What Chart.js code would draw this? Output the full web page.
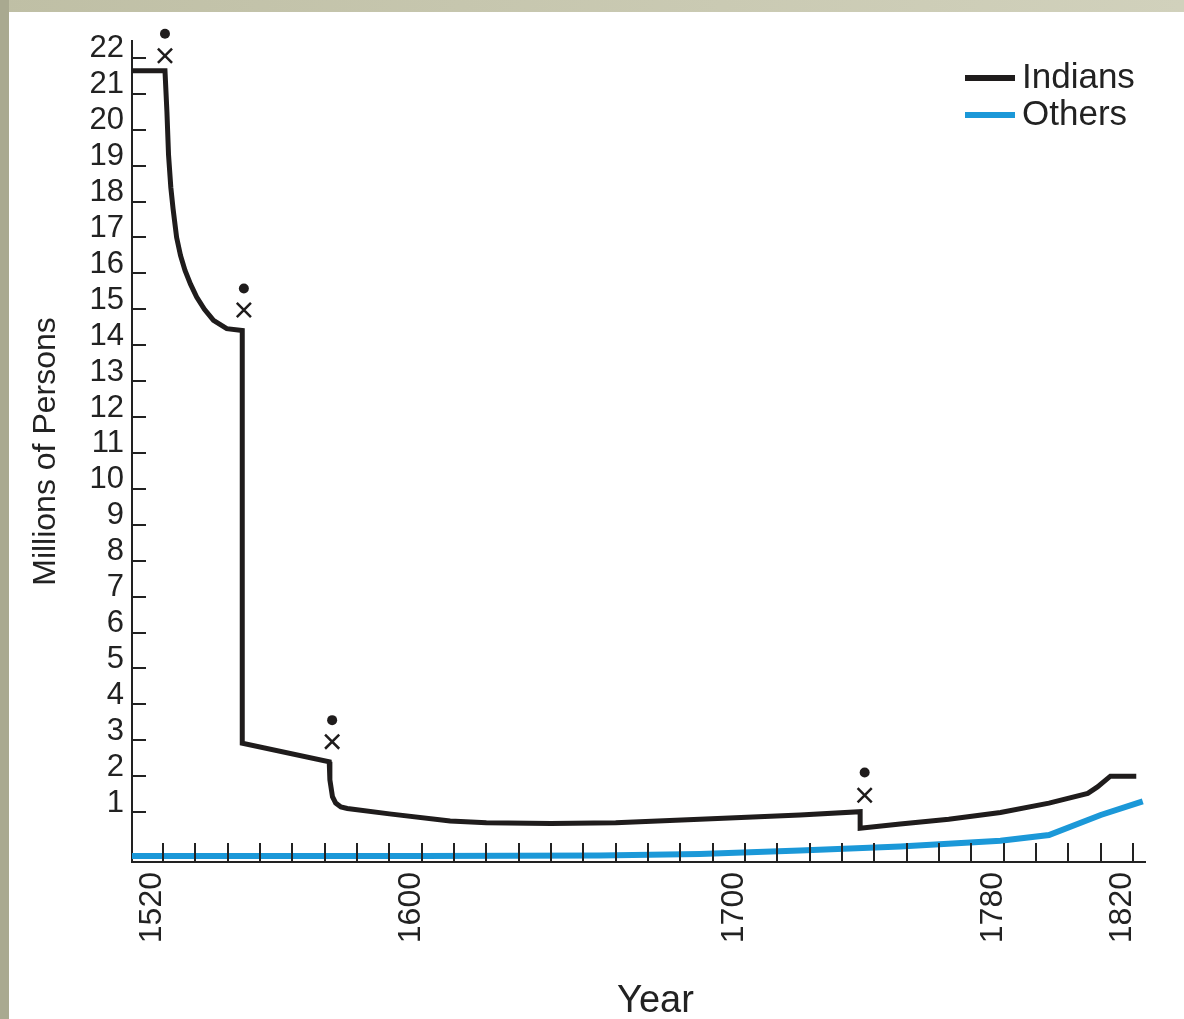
<!DOCTYPE html>
<html><head><meta charset="utf-8">
<script src="https://cdn.jsdelivr.net/npm/chart.js@4.4.1/dist/chart.umd.min.js"></script>
<style>
html,body{margin:0;padding:0;width:1184px;height:1019px;overflow:hidden;background:linear-gradient(to right,#bfbfa5,#d1d1bc);}
#left{position:absolute;left:0;top:0;width:9px;height:1019px;background:#a9a990;}
#wrap{position:absolute;left:9px;top:12px;width:1175px;height:1007px;background:#fff;}
canvas{display:block;}
</style></head><body>
<div id="left"></div>
<div id="wrap"><canvas id="c" width="1175" height="1007"></canvas></div>
<script>
// ---- data ----
const seriesNames = ['Indians', 'Others'];
const indianYears = [1510.4, 1520.6, 1521.2, 1521.7, 1522.4, 1523.1, 1524.2, 1525.4, 1526.8, 1528.5, 1530.4, 1532.8, 1535.6, 1539.7, 1544.5, 1544.5, 1571.4, 1571.6, 1572.4, 1573.4, 1575.0, 1577.0, 1590, 1608.8, 1620, 1640, 1660, 1686, 1717, 1735.6, 1735.6, 1748, 1763, 1779, 1794, 1806, 1809, 1813, 1821];
const indianValues = [21.64, 21.64, 20.5, 19.3, 18.4, 17.8, 17.0, 16.5, 16.08, 15.7, 15.34, 15.0, 14.69, 14.46, 14.41, 2.92, 2.40, 1.9, 1.43, 1.25, 1.14, 1.10, 0.95, 0.75, 0.70, 0.68, 0.70, 0.80, 0.92, 1.01, 0.55, 0.67, 0.80, 0.99, 1.25, 1.52, 1.7, 2.0, 2.0];
const otherYears = [1510.4, 1600, 1655, 1686, 1717, 1748, 1779, 1794, 1810, 1823];
const otherValues = [-0.22, -0.22, -0.21, -0.17, -0.07, 0.04, 0.20, 0.36, 0.92, 1.30];
const epidemicYears = [1520.6, 1545.0, 1572.3, 1737.0];
const epidemicDotValues = [22.67, 15.58, 3.56, 2.10];
const epidemicCrossValues = [22.06, 14.98, 2.96, 1.47];
const xLabelYears = [1520, 1600, 1700, 1780, 1820];
const yTickValues = [1,2,3,4,5,6,7,8,9,10,11,12,13,14,15,16,17,18,19,20,21,22];
const xTitle = 'Year';
const yTitle = 'Millions of Persons';

const INK = '#1f1c1c';
const BLUE = '#1b98d8';
const FONT = "'Liberation Sans', Arial, Helvetica, sans-serif";
Chart.defaults.font.family = FONT;
Chart.defaults.color = '#222';

const pts = (xs, ys) => xs.map((x, i) => ({x: x, y: ys[i]}));

const tickMarks = {
  id: 'tickMarks',
  afterDatasetsDraw(chart) {
    const {ctx, chartArea} = chart;
    const xs = chart.scales.x, ys = chart.scales.y;
    ctx.save();
    ctx.strokeStyle = '#222';
    ctx.lineWidth = 2;
    ctx.beginPath();
    xs.ticks.forEach(t => {
      const px = Math.round(xs.getPixelForValue(t.value));
      ctx.moveTo(px, chartArea.bottom);
      ctx.lineTo(px, chartArea.bottom - 19);
    });
    ys.ticks.forEach(t => {
      if (!yTickValues.includes(t.value)) return;
      const py = Math.round(ys.getPixelForValue(t.value));
      ctx.moveTo(chartArea.left, py);
      ctx.lineTo(chartArea.left + 14, py);
    });
    ctx.stroke();
    ctx.restore();
  }
};

const legendAndTitle = {
  id: 'legendAndTitle',
  afterDraw(chart) {
    const ctx = chart.ctx;
    const ca = chart.chartArea;
    const items = chart.data.datasets.filter(d => !d.isMarker);
    const x0 = ca.right - 180;
    let y0 = ca.top + 37;
    ctx.save();
    ctx.font = '35px ' + FONT;
    ctx.textBaseline = 'middle';
    ctx.textAlign = 'left';
    items.forEach(d => {
      ctx.fillStyle = d.borderColor;
      ctx.fillRect(x0, y0 - 3, 50, 6);
      ctx.fillStyle = '#222';
      ctx.fillText(d.label, x0 + 57, y0);
      y0 += 37;
    });
    // x axis title
    ctx.font = '38px ' + FONT;
    ctx.textAlign = 'center';
    ctx.textBaseline = 'alphabetic';
    ctx.fillText(xTitle, (ca.left + ca.right) / 2 + 17, chart.height - 7);
    ctx.restore();
  }
};

new Chart(document.getElementById('c'), {
  type: 'line',
  data: {
    datasets: [
      {label: seriesNames[0], data: pts(indianYears, indianValues), borderColor: INK, backgroundColor: INK,
       borderWidth: 5, pointRadius: 0, tension: 0, borderJoinStyle: 'miter', order: 1},
      {label: seriesNames[1], data: pts(otherYears, otherValues), borderColor: BLUE, backgroundColor: BLUE,
       borderWidth: 6, pointRadius: 0, tension: 0, order: 2},
      {label: 'epidemic', isMarker: true, data: pts(epidemicYears, epidemicDotValues), showLine: false,
       pointStyle: 'circle', pointRadius: 5, backgroundColor: INK, borderColor: 'rgba(0,0,0,0)', borderWidth: 5, clip: false},
      {label: 'epidemic x', isMarker: true, data: pts(epidemicYears, epidemicCrossValues), showLine: false,
       pointStyle: 'crossRot', pointRadius: 10, borderColor: INK, borderWidth: 2.5, clip: false}
    ]
  },
  options: {
    responsive: false,
    animation: false,
    layout: {padding: {top: 29, right: 39, left: 0, bottom: 0}},
    plugins: {legend: {display: false}, tooltip: {enabled: false}},
    scales: {
      x: {
        type: 'linear', min: 1510.4, max: 1823.7,
        afterFit(s) { s.height = 157; },
        border: {display: true, color: '#222', width: 2},
        grid: {drawOnChartArea: false, drawTicks: false},
        ticks: {
          stepSize: 10, autoSkip: false, includeBounds: false, minRotation: 90, maxRotation: 90,
          padding: 10, labelOffset: -11, color: '#222', font: {size: 32},
          callback: v => xLabelYears.includes(v) ? String(v) : ''
        },
        title: {display: false}
      },
      y: {
        type: 'linear', min: -0.39, max: 22.47,
        afterFit(s) { s.width = 123; },
        border: {display: true, color: '#222', width: 2},
        grid: {drawOnChartArea: false, drawTicks: false},
        ticks: {
          stepSize: 1, autoSkip: false, includeBounds: false, padding: 8, labelOffset: -9,
          color: '#222', font: {size: 31},
          callback: v => yTickValues.includes(v) ? String(v) : ''
        },
        title: {display: true, text: yTitle, color: '#222', font: {size: 32}, padding: {top: 18, bottom: 0}}
      }
    }
  },
  plugins: [tickMarks, legendAndTitle]
});
</script>
</body></html>
